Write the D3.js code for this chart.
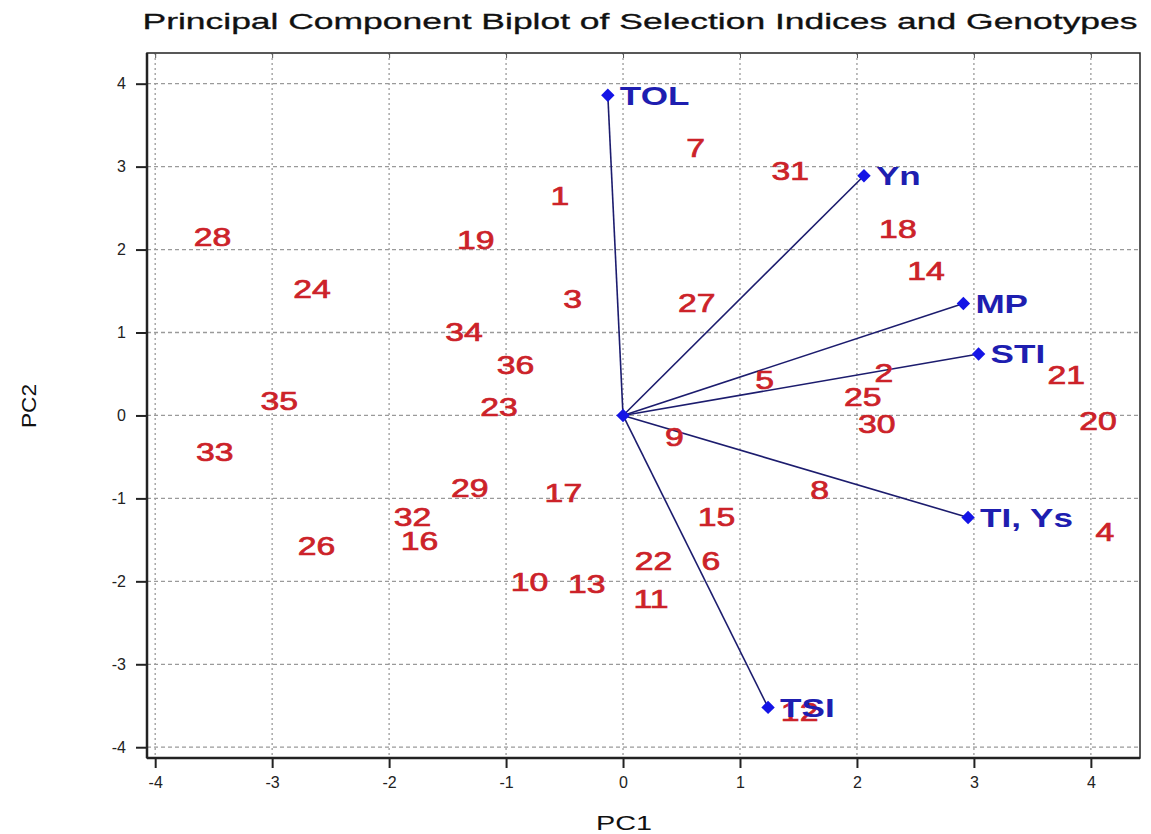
<!DOCTYPE html>
<html>
<head>
<meta charset="utf-8">
<title>PCA Biplot</title>
<script src="https://cdn.jsdelivr.net/npm/d3@7"></script>
<style>
    body { margin: 0; background: #fff; }
    svg { display: block; font-family: "Liberation Sans", Arial, sans-serif; }
</style>
</head>
<body>
<div id="chart"></div>
<script>
// Genotype scores (PC1, PC2)
const genotypes = ['1','2','3','4','5','6','7','8','9','10','11','12','13','14','15','16','17','18',
    '19','20','21','22','23','24','25','26','27','28','29','30','31','32','33','34','35','36'];
const genoPC1 = [-0.54, 2.23, -0.43, 4.12, 1.21, 0.75, 0.62, 1.68, 0.44, -0.80, 0.24, 1.51, -0.31, 2.59,
    0.80, -1.74, -0.51, 2.35, -1.26, 4.06, 3.79, 0.26, -1.06, -2.66, 2.05, -2.62, 0.63, -3.51,
    -1.31, 2.17, 1.43, -1.80, -3.49, -1.36, -2.94, -0.92];
const genoPC2 = [2.65, 0.51, 1.41, -1.41, 0.43, -1.76, 3.23, -0.90, -0.26, -2.01, -2.21, -3.58, -2.03, 1.74,
    -1.23, -1.51, -0.93, 2.25, 2.11, -0.07, 0.49, -1.75, 0.10, 1.53, 0.22, -1.57, 1.36, 2.15,
    -0.87, -0.10, 2.95, -1.23, -0.44, 1.01, 0.17, 0.61];

// Selection index loadings (vectors from origin)
const indices = ['TOL', 'Yn', 'MP', 'STI', 'TI, Ys', 'TSI'];
const indexPC1 = [-0.13, 2.06, 2.91, 3.04, 2.95, 1.24];
const indexPC2 = [3.86, 2.89, 1.35, 0.74, -1.23, -3.52];

// Axis ticks
const tickValues = [-4, -3, -2, -1, 0, 1, 2, 3, 4];

const width = 1151, height = 834;
const margin = { top: 53, right: 11, bottom: 76, left: 147 };

function renderBiplot() {
    const svg = d3.select('#chart')
        .append('svg')
        .attr('width', width)
        .attr('height', height);

    svg.append('rect').attr('width', width).attr('height', height).attr('fill', '#fff');

    const x = d3.scaleLinear().domain([-4.07, 4.42]).range([margin.left, width - margin.right]);
    const y = d3.scaleLinear().domain([-4.13, 4.37]).range([height - margin.bottom, margin.top]);

    // grid lines
    svg.append('g').selectAll('line')
        .data(tickValues)
        .join('line')
        .attr('x1', d => x(d)).attr('x2', d => x(d))
        .attr('y1', margin.top).attr('y2', height - margin.bottom)
        .attr('stroke', '#9a9a9a').attr('stroke-width', 1.3)
        .attr('stroke-dasharray', '2,3');

    svg.append('g').selectAll('line')
        .data(tickValues)
        .join('line')
        .attr('x1', margin.left).attr('x2', width - margin.right)
        .attr('y1', d => y(d)).attr('y2', d => y(d))
        .attr('stroke', '#9a9a9a').attr('stroke-width', 1.3)
        .attr('stroke-dasharray', '4,3');

    // frame: top and right thin
    svg.append('rect')
        .attr('x', margin.left).attr('y', margin.top)
        .attr('width', width - margin.right - margin.left)
        .attr('height', height - margin.bottom - margin.top)
        .attr('fill', 'none').attr('stroke', '#222').attr('stroke-width', 1.5);

    // small inner ticks on top
    svg.append('g').attr('transform', `translate(0,${margin.top})`)
        .call(d3.axisBottom(x).tickValues(tickValues).tickSize(5).tickFormat(''))
        .call(g => g.select('.domain').remove())
        .selectAll('line').attr('stroke', '#555');

    // bottom axis
    const xAxis = svg.append('g')
        .attr('transform', `translate(0,${height - margin.bottom})`)
        .call(d3.axisBottom(x).tickValues(tickValues).tickSize(10).tickPadding(9)
            .tickFormat(d => String(d)));
    xAxis.select('.domain').attr('d', `M${margin.left},0H${width - margin.right}`)
        .attr('stroke', '#222').attr('stroke-width', 2.5);
    xAxis.selectAll('line').attr('stroke', '#222').attr('stroke-width', 2);
    xAxis.selectAll('text').attr('font-size', 16).attr('fill', '#222')
        .attr('font-family', '"Liberation Sans", Arial, sans-serif');

    // left axis
    const yAxis = svg.append('g')
        .attr('transform', `translate(${margin.left},0)`)
        .call(d3.axisLeft(y).tickValues(tickValues).tickSize(11).tickPadding(10)
            .tickFormat(d => String(d)));
    yAxis.select('.domain').attr('d', `M0,${margin.top}V${height - margin.bottom}`)
        .attr('stroke', '#222').attr('stroke-width', 2.5);
    yAxis.selectAll('line').attr('stroke', '#222').attr('stroke-width', 2);
    yAxis.selectAll('text').attr('font-size', 16).attr('fill', '#222')
        .attr('font-family', '"Liberation Sans", Arial, sans-serif');

    // vectors for selection indices
    const vectors = indices.map((name, i) => ({ name: name, pc1: indexPC1[i], pc2: indexPC2[i] }));

    svg.append('g').selectAll('line')
        .data(vectors)
        .join('line')
        .attr('x1', x(0)).attr('y1', y(0))
        .attr('x2', d => x(d.pc1)).attr('y2', d => y(d.pc2))
        .attr('stroke', '#1c1c6e').attr('stroke-width', 1.6);

    const diamond = d3.symbol().type(d3.symbolSquare).size(90);
    svg.append('g').selectAll('path')
        .data(vectors.concat([{ name: '', pc1: 0, pc2: 0 }]))
        .join('path')
        .attr('d', diamond)
        .attr('transform', d => `translate(${x(d.pc1)},${y(d.pc2)}) rotate(45)`)
        .attr('fill', '#1414e6');

    // genotype labels
    const genoData = genotypes.map((g, i) => ({ label: g, pc1: genoPC1[i], pc2: genoPC2[i] }));
    svg.append('g').selectAll('text')
        .data(genoData)
        .join('text')
        .attr('transform', d => `translate(${x(d.pc1)},${y(d.pc2)}) scale(1.35,1)`)
        .attr('text-anchor', 'middle')
        .attr('dy', '0.36em')
        .attr('font-size', 25)
        .attr('fill', '#cc2229')
        .attr('stroke', '#cc2229')
        .attr('stroke-width', 0.7)
        .text(d => d.label);

    // index labels
    svg.append('g').selectAll('text')
        .data(vectors)
        .join('text')
        .attr('transform', d => `translate(${x(d.pc1) + 12},${y(d.pc2)}) scale(1.35,1)`)
        .attr('dy', '0.36em')
        .attr('font-size', 26)
        .attr('font-weight', 'bold')
        .attr('fill', '#1e1eb0')
        .text(d => d.name);

    // title
    svg.append('text')
        .attr('x', 640).attr('y', 29)
        .attr('text-anchor', 'middle')
        .attr('font-size', 22)
        .attr('textLength', 995)
        .attr('lengthAdjust', 'spacingAndGlyphs')
        .attr('fill', '#111')
        .attr('stroke', '#111')
        .attr('stroke-width', 0.3)
        .text('Principal Component Biplot of Selection Indices and Genotypes');

    // axis titles
    svg.append('text')
        .attr('x', 624).attr('y', 830)
        .attr('text-anchor', 'middle')
        .attr('font-size', 21)
        .attr('textLength', 56)
        .attr('lengthAdjust', 'spacingAndGlyphs')
        .attr('fill', '#111')
        .text('PC1');

    svg.append('text')
        .attr('transform', 'translate(36,406) rotate(-90)')
        .attr('text-anchor', 'middle')
        .attr('font-size', 21)
        .attr('textLength', 44)
        .attr('lengthAdjust', 'spacingAndGlyphs')
        .attr('fill', '#111')
        .text('PC2');
}

document.addEventListener('DOMContentLoaded', function () {
    renderBiplot();
});
</script>
</body>
</html>
